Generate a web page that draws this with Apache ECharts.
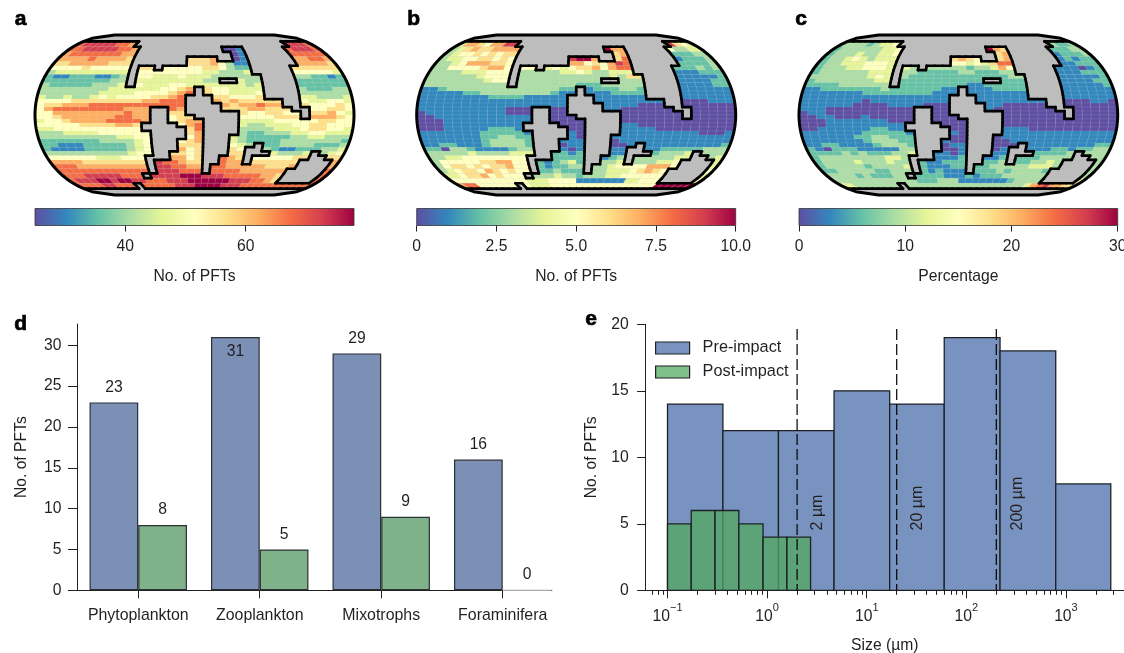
<!DOCTYPE html>
<html><head><meta charset="utf-8">
<style>html,body{margin:0;padding:0;background:#fff}#c{width:1124px;height:653px}</style>
<script src="https://cdn.jsdelivr.net/npm/echarts@6/dist/echarts.min.js"></script>
</head><body><div id="c"></div>
<script>
// ---------- DATA ----------
// Ocean grid, 36 x 36 cells, '.' = land, digit/A = level index into the levels arrays.
const rowsA=[
"....................................",
"899999887.......................9998",
"8899999887............001......89998",
"7888888877.............01......88888",
"7777877776.......6667..01......77887",
"6677777666.......66675311......77776",
"5555655555.66.55555665322.....666666",
"3444444444.55555555443334.....555554",
"2112221123.554445444333333....332212",
"2222222233.4444444433..433....222222",
"3222223334.544455444444434....222222",
"333333334444445567.6554444....322233",
"333333344445555678.6554445....333333",
"43343345455556678...665556....443334",
"55556666666677888...76766666..544554",
"56677788888888888....7677877..655565",
"5788888888777..87....66677666..55665",
"5577777777877..66......6556655.66754",
"5567777778877..566.....5555666.77765",
"4556777788887..5677....4444555556655",
"555556666776....578....4334445566555",
"445555555555.....68....3333444566554",
"3334444555555....67....3223334455444",
"3333333334455....57...43222223344333",
"2222222333345...567...43222233333332",
"2211122222345...666...543.2233332223",
"2111122222345...756...65..3211222334",
"3333333333455..6656...66...43334.345",
"555555444555...7756..876.5555566..66",
"777766666666.988766..877.666666....7",
"888777777777.998877.88777776667....7",
"888888888888.999888.8888777777.....8",
"88899999888.9999AAA99988888776.....8",
"8999AA9AA99888999AAAAAA9998876.....8",
"888899888.88888999AAAA99988888888888",
"...................................."];
const rowsB=[
"....................................",
"477657799.......................9654",
"3467667777............A77......53344",
"3455656566.............67......22233",
"3445566565.......9AA7..68......12223",
"3345777665.......77565798......22223",
"3355556775.55.45456675788.....222323",
"3333444555.33333445433444.....111222",
"3333334555.333333333334366....111112",
"3333333455.3333333333..333....111122",
"3333333333.333333322233333....111122",
"112333333333333322.1222332....111111",
"111112233333333211.1112222....111111",
"11111111222211111...111111....111111",
"11111111111111111...11111111..000111",
"11111111111111111....1111000..000000",
"1111111111000..00....11000000..00000",
"0111111111000..00......0000000.00000",
"0011111111111..000.....0000000.00000",
"0001111111111..0000....0000000000000",
"000111111111....000....1100000000000",
"000111112221.....00....1111000000000",
"1111111222221....10....1111111110001",
"1111111223322....10...11111111111111",
"1111111233332...111...01111111111111",
"1122111233332...011...001.1111111112",
"2203321111233...101...11..1122222333",
"3333343333444..2212...11...23334.333",
"334455555555...2222..123.3333344..34",
"355555667755.212342..334.333445....4",
"356656566755.212233.33455557775....4",
"345665765655.223222.3344456765.....5",
"44566756555.333433233344555555.....4",
"555555555554445555111111144555.....5",
"788555555.54445555555555555555AAAAAA",
"...................................."];
const rowsC=[
"....................................",
"333323445.......................3223",
"2333333445............A76......22233",
"2333433445.............67......12223",
"2334543444.......6765..67......12122",
"2334445554.......55454688......11222",
"2333445554.43.33333233475.....111012",
"2333333444.33222223322233.....111222",
"3333333454.322222222222233....111112",
"2333333344.2222222222..222....111122",
"2222333333.222222221122222....111112",
"112222222322222211.1112222....111111",
"111111122222222111.1111111....111111",
"11111111111111111...111111....111111",
"11111110111111111...11111111..000110",
"11111100001111000....1100000..000000",
"1110000000000..00....10000000..00000",
"0110000000000..00......0000000.00000",
"0011000100000..000.....0000000.00000",
"0001111111000..0000....0000000000000",
"000111111111....000....0000000000000",
"001111112211.....00....1110000000000",
"1111111222221....10....1111111111111",
"1111112233222....00...01111111111111",
"1111111233322...100...00111111111111",
"1122111123332...011...000.1111111122",
"2102221111133...001...01..1112212233",
"2222323222334..1101...11...22223.333",
"233333333443...1112..112.2223333..33",
"233334333433.211222..223.223343....3",
"233333233334.211122.22333334443....3",
"223333322333.212111.2223233332.....3",
"33332322233.222211121222333333.....3",
"333333333333222333111111123333.....4",
"443333333.33333333333333333347897766",
"...................................."];
const levelsA=[25,30.3,35.6,40.9,46.2,51.5,56.8,62.1,67.4,72.7,78];
const levelsB=[0,1,2,3,4,5,6,7,8,9,10];
const levelsC=[0,3,6,9,12,15,18,21,24,27,30];
const spectral=['#5e4fa2','#3288bd','#66c2a5','#abdda4','#e6f598','#ffffbf','#fee08b','#fdae61','#f46d43','#d53e4f','#9e0142'];
const ticksA=[40,60],  tickLabelsA=['40','60'];
const ticksB=[0,2.5,5,7.5,10], tickLabelsB=['0','2.5','5.0','7.5','10.0'];
const ticksC=[0,10,20,30], tickLabelsC=['0','10','20','30'];
const titlesMap=['No. of PFTs','No. of PFTs','Percentage'];
// panel d
const groups=['Phytoplankton','Zooplankton','Mixotrophs','Foraminifera'];
const preByGroup=[23,31,29,16];
const postByGroup=[8,5,9,0];
// panel e
const preEdges=[0.1,0.36,1.3,4.7,17,60,218,790,2820];
const preCounts=[14,12,12,15,14,19,18,8];
const postEdges=[0.1,0.173,0.30,0.52,0.91,1.58,2.73];
const postCounts=[5,6,6,5,4,4];
const sizeLines=[2,20,200];
const sizeLineLabels=['2 µm','20 µm','200 µm'];
const sizeLineTop=19.65;
const sizeLabelBase=4.5;
const logMajor=[-1,0,1,2,3];
const logMinorMult=[2,3,4,5,6,7,8,9];
const logMinorDecades=[-2,-1,0,1,2,3];

// ---------- helpers ----------
rowsA.concat(rowsB,rowsC).forEach((r,i)=>{if(r.length!==36)throw new Error('bad row '+i+' len '+r.length)});
const FONT='"Liberation Sans",Arial,sans-serif', TXT='#231f20', FS=15.7;
const memo={};
function thetaOf(s){
  if(memo[s]!==undefined)return memo[s];
  const target=(2+Math.PI/2)*s;let lo=-Math.PI/2,hi=Math.PI/2;
  for(let i=0;i<50;i++){const t=(lo+hi)/2,f=t+Math.sin(t)*Math.cos(t)+2*Math.sin(t);if(f<target)lo=t;else hi=t;}
  return memo[s]=(lo+hi)/2;
}
function project(lon,s){const t=thetaOf(s);return [lon*(1+Math.cos(t))/2,Math.sin(t)];}
const lonOf=c=>-1+c/18, sOf=r=>1-r/18;
function outlinePts(){const p=[];const n=72;
  for(let i=0;i<=n;i++)p.push(project(-1,1-2*i/n));
  for(let i=0;i<=n;i++)p.push(project(1,-1+2*i/n));
  return p;}
const outline=outlinePts();

function cellItems(rows,levels){const d=[];rows.forEach((row,r)=>{for(let c=0;c<36;c++){const ch=row[c];if(ch==='.')continue;
  d.push([c,r,levels[parseInt(ch,16)]]);}});return d;}
function edgeItems(rows){const d=[];
  const land=(r,c)=>rows[r][c]==='.';
  for(let r=0;r<36;r++)for(let c=0;c<36;c++){
    if(c<35&&land(r,c)!==land(r,c+1))d.push([lonOf(c+1),sOf(r),lonOf(c+1),sOf(r+1)]);
    if(r<35&&land(r,c)!==land(r+1,c))d.push([lonOf(c),sOf(r+1),lonOf(c+1),sOf(r+1)]);
  }return d;}

function renderCell(params,api){
  const c=api.value(0),r=api.value(1);const l0=lonOf(c),l1=lonOf(c+1),s0=sOf(r),s1=sOf(r+1);
  const pts=[];const n=3;
  for(let i=0;i<=n;i++){const s=+(s0+(s1-s0)*i/n).toFixed(6);pts.push(api.coord(project(l0,s)));}
  for(let i=n;i>=0;i--){const s=+(s0+(s1-s0)*i/n).toFixed(6);pts.push(api.coord(project(l1,s)));}
  return {type:'polygon',shape:{points:pts},silent:true,style:{fill:api.visual('color'),stroke:'rgba(255,255,255,0.15)',lineWidth:0.5}};
}
function renderEdge(params,api){
  const a=api.coord(project(api.value(0),+api.value(1).toFixed(6))),b=api.coord(project(api.value(2),+api.value(3).toFixed(6)));
  return {type:'line',shape:{x1:a[0],y1:a[1],x2:b[0],y2:b[1]},silent:true,style:{stroke:'#000',lineWidth:2.7,lineCap:'round'}};
}
function renderFrame(fill,stroke){return function(params,api){
  const pts=outline.map(p=>api.coord(p));
  return {type:'polygon',shape:{points:pts},silent:true,style:fill?{fill:fill}:{fill:'none',stroke:stroke,lineWidth:3,lineJoin:'round'}};
};}

const mapGeom=[{l:35,w:319,rows:rowsA,lv:levelsA,min:25,max:78,t:ticksA,tl:tickLabelsA},
               {l:416.7,w:319,rows:rowsB,lv:levelsB,min:0,max:10,t:ticksB,tl:tickLabelsB},
               {l:799,w:318.7,rows:rowsC,lv:levelsC,min:0,max:30,t:ticksC,tl:tickLabelsC}];
const grid=[],xAxis=[],yAxis=[],series=[],visualMap=[];
const hidden=(o)=>Object.assign({type:'value',show:false,min:-1,max:1},o||{});
const mkGrid=(left,width,top,height)=>({left,width,top,height,outerBoundsMode:'none',containLabel:false});
mapGeom.forEach((m,i)=>{
  const gi=grid.length;grid.push(mkGrid(m.l,m.w,35,160));
  xAxis.push(hidden({gridIndex:gi}));yAxis.push(hidden({gridIndex:gi}));
  const base={type:'custom',xAxisIndex:gi,yAxisIndex:gi,coordinateSystem:'cartesian2d',silent:true,animation:false,clip:false};
  series.push(Object.assign({},base,{renderItem:renderFrame('#bdbdbd'),data:[[0,0]],z:1}));
  visualMap.push({show:false,seriesIndex:series.length,dimension:2,min:m.min,max:m.max,inRange:{color:spectral}});
  series.push(Object.assign({},base,{renderItem:renderCell,data:cellItems(m.rows,m.lv),z:2,encode:{x:-1,y:-1}}));
  series.push(Object.assign({},base,{renderItem:renderEdge,data:edgeItems(m.rows),z:3,encode:{x:-1,y:-1}}));
  series.push(Object.assign({},base,{renderItem:renderFrame(null,'#000'),data:[[0,0]],z:4}));
});
mapGeom.forEach((m,i)=>{
  const gi=grid.length;grid.push(mkGrid(m.l,m.w,208.5,17));
  xAxis.push({type:'value',gridIndex:gi,min:m.min,max:m.max,position:'bottom',
    axisLine:{show:false},splitLine:{show:false},
    axisTick:{show:true,length:6,customValues:m.t,lineStyle:{color:TXT,width:1}},
    axisLabel:{show:true,customValues:m.t,margin:13,color:TXT,fontFamily:FONT,fontSize:FS,
      formatter:v=>m.tl[m.t.indexOf(v)]},
    name:titlesMap[i],nameLocation:'middle',nameGap:43,nameTextStyle:{color:TXT,fontFamily:FONT,fontSize:FS}});
  yAxis.push({type:'value',gridIndex:gi,show:false,min:0,max:1});
  series.push({type:'custom',xAxisIndex:gi,yAxisIndex:gi,silent:true,animation:false,clip:false,data:[[m.min,m.max]],
    encode:{x:[0,1],y:-1},
    renderItem:(p,api)=>{const a=api.coord([api.value(0),1]),b=api.coord([api.value(1),0]);
      return {type:'rect',shape:{x:a[0],y:a[1],width:b[0]-a[0],height:b[1]-a[1]},silent:true,
        style:{stroke:'#333',lineWidth:0.8,fill:new echarts.graphic.LinearGradient(0,0,1,0,spectral.map((c,k)=>({offset:k/10,color:c})))}};}});
});
// Panel d
{const gi=grid.length;grid.push(mkGrid(77.5,474.3,324,266.3));
 const catX=[0,1,2,3];
 xAxis.push({type:'value',gridIndex:gi,min:-0.5,max:3.404,splitLine:{show:false},
   axisLine:{show:true,onZero:false,lineStyle:{color:TXT,width:1}},
   axisTick:{show:true,length:8,customValues:catX,lineStyle:{color:TXT,width:1}},
   axisLabel:{show:true,customValues:catX,margin:17,color:TXT,fontFamily:FONT,fontSize:15.9,formatter:v=>groups[v]}});
 yAxis.push({type:'value',gridIndex:gi,min:0,max:32.6,interval:5,splitLine:{show:false},
   axisLine:{show:true,onZero:false,lineStyle:{color:TXT,width:1}},
   axisTick:{show:true,length:9.5,lineStyle:{color:TXT,width:1}},
   axisLabel:{margin:16,color:TXT,fontFamily:FONT,fontSize:FS,showMaxLabel:false,padding:[2,0,0,0]},
   name:'No. of PFTs',nameLocation:'middle',nameGap:48,nameRotate:90,nameTextStyle:{color:TXT,fontFamily:FONT,fontSize:FS}});
 const lab=(extra)=>Object.assign({show:true,position:'top',distance:7,color:TXT,fontFamily:FONT,fontSize:FS,formatter:p=>String(p.value[1])},extra||{});
 series.push({type:'bar',name:'d-pre',xAxisIndex:gi,yAxisIndex:gi,barWidth:48.7,barGap:'0%',animation:false,silent:true,
   itemStyle:{color:'#7c90b6',borderColor:'#2b2f36',borderWidth:1.2},
   data:preByGroup.map((v,k)=>({value:[k,v],label:lab(v===31?{position:'insideTop',distance:7}:{})}))});
 series.push({type:'bar',name:'d-post',xAxisIndex:gi,yAxisIndex:gi,barWidth:48.7,barGap:'0%',animation:false,silent:true,
   itemStyle:{color:'#80b28a',borderColor:'#2b2f36',borderWidth:1.2},
   data:postByGroup.map((v,k)=>({value:[k,v],itemStyle:v===0?{borderColor:'#aaa'}:{},label:lab()}))});
}
// Panel e
{const gi=grid.length;grid.push(mkGrid(645.6,478.4,324.3,266));
 const lg=Math.log10;
 const xMin=-1.22,xMax=3.583;
 const minor=[];logMinorDecades.forEach(d=>logMinorMult.forEach(m=>{const v=d+lg(m);if(v>=xMin&&v<=xMax)minor.push(v);}));
 xAxis.push({type:'value',gridIndex:gi,min:xMin,max:xMax,splitLine:{show:false},
   axisLine:{show:true,onZero:false,lineStyle:{color:TXT,width:1}},
   axisTick:{show:true,length:8,customValues:logMajor,lineStyle:{color:TXT,width:1}},
   axisLabel:{show:true,customValues:logMajor,margin:12,color:TXT,fontFamily:FONT,
     formatter:v=>'{b|10}{s|'+(v<0?'\u2212':'')+Math.abs(v)+'}',
     rich:{b:{fontSize:FS,fontFamily:FONT,color:TXT,lineHeight:22,verticalAlign:'bottom'},
           s:{fontSize:11,fontFamily:FONT,color:TXT,lineHeight:11,verticalAlign:'top'}}},
   name:'Size (µm)',nameLocation:'middle',nameGap:47,nameTextStyle:{color:TXT,fontFamily:FONT,fontSize:15.7}});
 const mi=xAxis.length;
 xAxis.push({type:'value',gridIndex:gi,min:xMin,max:xMax,position:'bottom',splitLine:{show:false},
   axisLine:{show:false,onZero:false},axisLabel:{show:false},
   axisTick:{show:true,length:4.5,customValues:minor,lineStyle:{color:TXT,width:1}}});
 yAxis.push({type:'value',gridIndex:gi,min:0,max:20,interval:5,splitLine:{show:false},
   axisLine:{show:true,onZero:false,lineStyle:{color:TXT,width:1}},
   axisTick:{show:true,length:8.5,lineStyle:{color:TXT,width:1}},
   axisLabel:{margin:17,color:TXT,fontFamily:FONT,fontSize:FS,padding:[2,0,0,0]},
   name:'No. of PFTs',nameLocation:'middle',nameGap:46,nameRotate:90,nameTextStyle:{color:TXT,fontFamily:FONT,fontSize:FS}});
 const xi=mi-1;
 const hist=(edges,counts)=>counts.map((c,k)=>[lg(edges[k]),lg(edges[k+1]),c]);
 const bar=(fill)=>(p,api)=>{const a=api.coord([api.value(0),api.value(2)]),b=api.coord([api.value(1),0]);
   return {type:'rect',shape:{x:a[0],y:a[1],width:b[0]-a[0],height:b[1]-a[1]},silent:true,style:{fill:fill,stroke:'#1d2126',lineWidth:1.3}};};
 series.push({type:'custom',name:'Pre-impact',xAxisIndex:xi,yAxisIndex:gi,animation:false,silent:true,z:2,encode:{x:[0,1],y:2},
   itemStyle:{color:'#7893bf'},renderItem:bar('#7893bf'),data:hist(preEdges,preCounts)});
 series.push({type:'custom',name:'Post-impact',xAxisIndex:xi,yAxisIndex:gi,animation:false,silent:true,z:3,encode:{x:[0,1],y:2},
   itemStyle:{color:'rgba(82,168,96,0.74)'},renderItem:bar('rgba(82,168,96,0.74)'),data:hist(postEdges,postCounts)});
 series.push({type:'custom',name:'size-lines',xAxisIndex:xi,yAxisIndex:gi,animation:false,silent:true,z:4,encode:{x:0,y:-1},
   data:sizeLines.map((s,k)=>[lg(s),k]),
   renderItem:(p,api)=>{const a=api.coord([api.value(0),sizeLineTop]),b=api.coord([api.value(0),0]);
     const t=api.coord([api.value(0)+0.21,sizeLabelBase]);
     return {type:'group',children:[
       {type:'line',shape:{x1:a[0],y1:a[1],x2:b[0],y2:b[1]},style:{stroke:'#000',lineWidth:1.2,lineDash:[11,4]}},
       {type:'text',x:t[0],y:t[1],rotation:Math.PI/2,silent:true,
        style:{text:sizeLineLabels[api.value(1)],fill:TXT,font:'16px '+FONT,textAlign:'left',textVerticalAlign:'middle'}}]};}});
}
const letter=(t,x,y)=>({type:'text',left:x,top:y,silent:true,style:{text:t,fill:'#000',stroke:'#000',lineWidth:0.7,font:'bold 21px '+FONT}});
const option={animation:false,backgroundColor:'#fff',grid,xAxis,yAxis,series,visualMap,
  textStyle:{fontFamily:FONT},
  legend:{show:true,orient:'vertical',left:650,top:335,itemWidth:34,itemHeight:12,itemGap:8,
    data:['Pre-impact','Post-impact'],icon:'rect',selectedMode:false,
    itemStyle:{borderColor:'#1d2126',borderWidth:1.2},
    textStyle:{color:TXT,fontFamily:FONT,fontSize:16.3,padding:[0,0,0,8]}},
  graphic:[letter('a',14.5,8),letter('b',407,8),letter('c',795,8),letter('d',14,313),letter('e',585,308)]};
const chart=echarts.init(document.getElementById('c'),null,{renderer:'canvas'});
chart.setOption(option);
</script></body></html>
